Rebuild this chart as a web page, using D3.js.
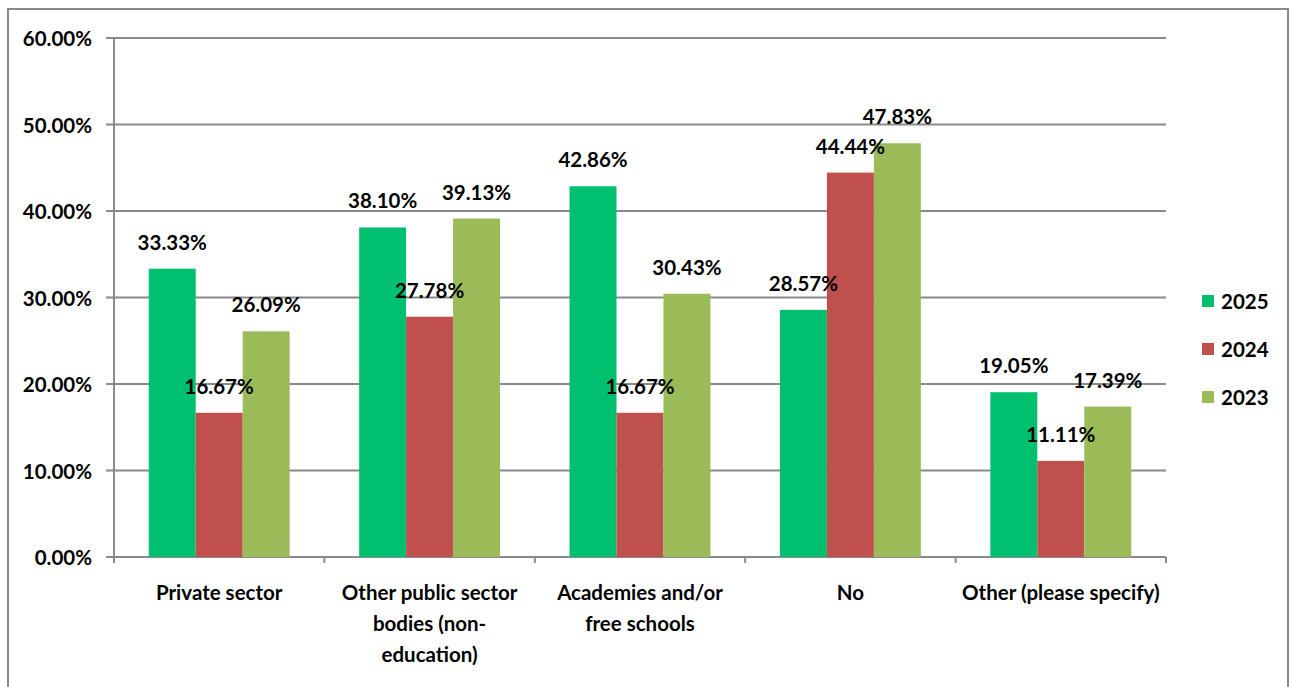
<!DOCTYPE html>
<html>
<head>
<meta charset="utf-8">
<script src="https://cdn.jsdelivr.net/npm/d3@7"></script>
<style>
  html, body { margin: 0; padding: 0; background: #fff; }
  svg { display: block; }
  text { font-family: Lato, "Open Sans", sans-serif; font-weight: 700; fill: #000; }
</style>
</head>
<body>
<svg id="chart" width="1296" height="687"></svg>
<script>
// Categories and series values (percent)
const categories = [
  ["Private sector"],
  ["Other public sector", "bodies (non-", "education)"],
  ["Academies and/or", "free schools"],
  ["No"],
  ["Other (please specify)"]
];
const seriesNames = ["2025", "2024", "2023"];
const values2025 = [33.33, 38.10, 42.86, 28.57, 19.05];
const values2024 = [16.67, 27.78, 16.67, 44.44, 11.11];
const values2023 = [26.09, 39.13, 30.43, 47.83, 17.39];
const seriesColors = ["#00BF6F", "#C0504D", "#9BBB59"];
const yTicks = [0, 10, 20, 30, 40, 50, 60];

const seriesValues = [values2025, values2024, values2023];
const catKeys = categories.map(c => c.join(" "));

const svg = d3.select("#chart");
const plot = { left: 114, right: 1166, top: 38, bottom: 557 };
const gridColor = "#8A8A8A";
const fontSize = 20.5;

// Outer frame
svg.append("rect")
  .attr("x", 8).attr("y", 9)
  .attr("width", 1280).attr("height", 700)
  .attr("fill", "none")
  .attr("stroke", gridColor)
  .attr("stroke-width", 2);

const x0 = d3.scaleBand().domain(catKeys).range([plot.left, plot.right]).padding(0);
const x1 = d3.scaleBand().domain(seriesNames).range([0, x0.bandwidth()])
  .paddingInner(0).paddingOuter(0.74);
const y = d3.scaleLinear().domain([0, 60]).range([plot.bottom, plot.top]);

// Horizontal gridlines with left-side tick marks
svg.append("g").selectAll("line")
  .data(yTicks)
  .join("line")
  .attr("x1", plot.left - 8).attr("x2", plot.right)
  .attr("y1", d => y(d)).attr("y2", d => y(d))
  .attr("stroke", gridColor).attr("stroke-width", 2);

// Y tick labels
svg.append("g").selectAll("text")
  .data(yTicks)
  .join("text")
  .attr("x", 92)
  .attr("y", d => y(d) + 8)
  .attr("text-anchor", "end")
  .attr("font-size", fontSize)
  .text(d => d3.format(".2f")(d) + "%");

// Bars
const groups = svg.append("g").selectAll("g")
  .data(seriesNames)
  .join("g")
  .attr("fill", (s, i) => seriesColors[i]);

groups.selectAll("rect")
  .data((s, i) => seriesValues[i].map((v, j) => ({ s, v, cat: catKeys[j] })))
  .join("rect")
  .attr("x", d => x0(d.cat) + x1(d.s))
  .attr("width", x1.bandwidth())
  .attr("y", d => y(d.v))
  .attr("height", d => y(0) - y(d.v));

// Left axis line
svg.append("line")
  .attr("x1", plot.left).attr("x2", plot.left)
  .attr("y1", plot.top).attr("y2", plot.bottom + 6)
  .attr("stroke", gridColor).attr("stroke-width", 2);

// Category boundary ticks below the baseline
const boundaries = catKeys.map(k => x0(k)).concat([plot.right]);
svg.append("g").selectAll("line")
  .data(boundaries)
  .join("line")
  .attr("x1", d => d).attr("x2", d => d)
  .attr("y1", plot.bottom).attr("y2", plot.bottom + 6)
  .attr("stroke", gridColor).attr("stroke-width", 2);

// Value labels
const labels = svg.append("g");
seriesNames.forEach((s, i) => {
  labels.selectAll(null)
    .data(seriesValues[i].map((v, j) => ({ s, v, cat: catKeys[j] })))
    .join("text")
    .attr("x", d => x0(d.cat) + x1(d.s) + x1.bandwidth() / 2)
    .attr("y", d => y(d.v) - 19)
    .attr("text-anchor", "middle")
    .attr("font-size", fontSize)
    .text(d => d3.format(".2f")(d.v) + "%");
});

// Category labels (multi-line)
const catLabels = svg.append("g").selectAll("text")
  .data(categories)
  .join("text")
  .attr("x", (c, j) => x0(catKeys[j]) + x0.bandwidth() / 2)
  .attr("y", 600)
  .attr("text-anchor", "middle")
  .attr("font-size", fontSize);
catLabels.selectAll("tspan")
  .data(c => c)
  .join("tspan")
  .attr("x", function () { return this.parentNode.getAttribute("x"); })
  .attr("dy", (d, i) => i === 0 ? 0 : 31)
  .text(d => d);

// Legend
const legend = svg.append("g").selectAll("g")
  .data(seriesNames)
  .join("g")
  .attr("transform", (d, i) => `translate(1202, ${301 + i * 48})`);
legend.append("rect")
  .attr("x", 0).attr("y", -6)
  .attr("width", 12).attr("height", 12)
  .attr("fill", (d, i) => seriesColors[i]);
legend.append("text")
  .attr("x", 19).attr("y", 7.5)
  .attr("font-size", fontSize)
  .text(d => d);
</script>
</body>
</html>
